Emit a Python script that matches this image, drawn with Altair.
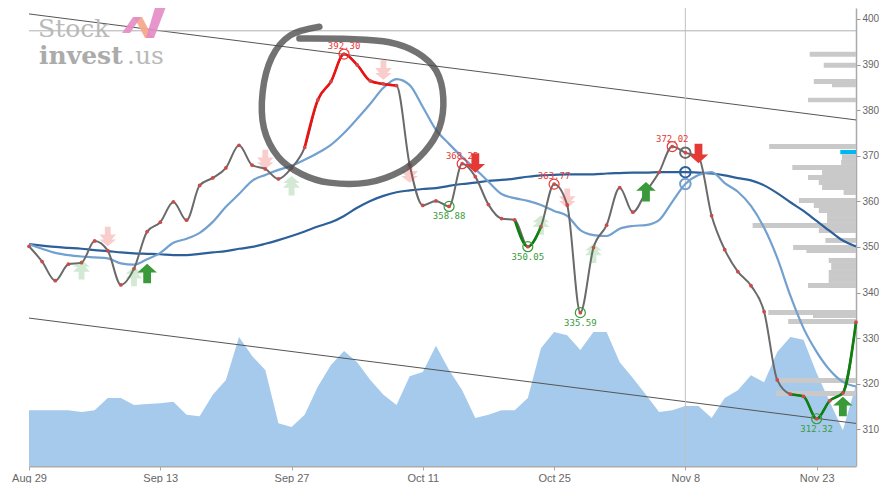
import altair as alt
import pandas as pd

# ---------------- data ----------------
date_labels = ["Aug 29", "Sep 13", "Sep 27", "Oct 11", "Oct 25", "Nov 8", "Nov 23"]
date_ticks = [0, 10, 20, 30, 40, 50, 60]
price_ticks = [310, 320, 330, 340, 350, 360, 370, 380, 390, 400]

price = [350.15, 346.78, 342.61, 346.21, 346.56, 351.32, 349.19, 341.67, 345.24, 353.36,
         355.42, 359.87, 355.86, 363.49, 365.13, 367.32, 372.30, 367.92, 367.11, 364.91,
         367.32, 371.82, 382.24, 386.25, 392.30, 389.91, 386.40, 385.75, 385.37, 367.98,
         359.10, 360.09, 358.88, 368.25, 365.42, 359.28, 356.21, 355.92, 350.05, 354.45,
         363.77, 359.21, 335.59, 349.85, 354.78, 363.00, 357.61, 362.06, 366.38, 372.02,
         370.68, 369.74, 356.86, 349.41, 344.58, 341.51, 335.81, 320.83, 317.70, 317.21,
         312.32, 316.29, 317.98, 333.49]

ma_short = [350.6, 349.6, 348.7, 348.2, 347.9, 347.7, 347.5, 346.4, 346.1, 347.3,
            348.7, 350.9, 351.8, 353.1, 355.5, 358.8, 361.6, 364.5, 365.8, 366.9,
            367.8, 369.1, 370.6, 372.4, 375.0, 378.1, 381.4, 384.9, 386.8, 385.5,
            380.7, 375.7, 372.6, 369.7, 367.1, 364.3, 361.6, 360.7, 360.1, 359.2,
            357.9, 356.8, 353.7, 352.6, 352.4, 354.0, 354.6, 354.8, 355.9, 359.9,
            363.8, 365.8, 366.4, 364.0, 362.1, 359.0, 354.2, 347.6, 339.3, 332.2,
            327.0, 323.0, 320.4, 319.4]

ma_long = [350.6, 350.3, 350.0, 349.8, 349.6, 349.3, 349.1, 348.8, 348.6, 348.5,
           348.4, 348.2, 348.2, 348.5, 348.8, 349.1, 349.6, 350.0, 350.7, 351.5,
           352.4, 353.4, 354.5, 355.4, 356.8, 358.6, 360.1, 361.2, 362.0, 362.4,
           362.7, 362.9, 363.4, 363.8, 364.1, 364.5, 364.7, 365.0, 365.4, 365.7,
           365.8, 365.9, 365.9, 365.9, 366.1, 366.2, 366.3, 366.3, 366.4, 366.4,
           366.4, 366.3, 366.1, 365.7, 365.1, 364.6, 363.5, 361.8, 359.8, 357.9,
           355.7, 353.5, 351.4, 350.1]

volume = [13.7, 13.7, 13.7, 13.7, 13.3, 13.7, 16.3, 16.3, 14.8, 15.0,
          15.2, 15.5, 12.7, 12.4, 17.0, 20.2, 29.4, 25.3, 22.3, 10.9,
          10.1, 12.7, 18.7, 23.4, 26.4, 24.0, 20.2, 17.0, 14.8, 21.0,
          21.9, 27.5, 22.3, 18.0, 12.0, 12.7, 13.7, 13.7, 16.3, 27.0,
          30.5, 29.8, 26.6, 30.5, 30.5, 24.0, 20.6, 17.0, 13.3, 13.7,
          14.6, 14.6, 12.0, 16.3, 18.0, 21.2, 19.7, 26.2, 29.4, 28.8,
          21.7, 15.5, 9.4, 19.1]

# volume-at-price profile (right side)
prof_lo = [391.73, 389.32, 385.75, 385.02, 381.73, 371.49, 370.33, 369.08, 367.98, 366.89,
           365.79, 364.69, 363.60, 362.50, 361.40, 359.65, 358.55, 357.46, 356.36, 355.26,
           354.17, 353.07, 350.88, 349.34, 348.68, 346.49, 344.96, 343.42, 342.11, 341.01,
           335.09, 334.43, 333.11, 320.18, 317.32]
prof_hi = [392.83, 390.42, 386.84, 385.75, 382.74, 372.59, 371.27, 370.33, 369.08, 367.98,
           366.89, 365.79, 364.69, 363.60, 362.50, 360.75, 359.65, 358.55, 357.46, 356.36,
           355.26, 354.17, 351.97, 350.44, 349.34, 347.59, 346.49, 344.96, 343.42, 342.11,
           336.18, 335.09, 334.21, 321.27, 318.42]
prof_vol = [5.6, 3.9, 5.1, 2.9, 5.8, 10.5, 1.9, 1.7, 1.8, 7.7,
            4.1, 5.8, 4.5, 4.1, 1.5, 6.9, 5.1, 4.5, 3.5, 3.5,
            12.5, 4.5, 3.7, 7.6, 6.0, 3.3, 3.0, 3.3, 3.3, 5.8,
            10.6, 5.2, 8.2, 9.3, 9.7]
prof_current = 6  # index of the bar at the current price level

red_segment = (21, 28)
green_segments = [(37, 39), (58, 63)]
peak_idx = [24, 33, 40, 49]
trough_idx = [32, 38, 42, 60]
marker_idx = 50

solid_up = [(9, 344.2), (47, 362.1), (62, 315.0)]
solid_down = [(34, 368.4), (51, 370.5)]
faded_up = [(4, 345.0), (8, 343.5), (20, 363.4), (39, 354.8), (43, 348.6)]
faded_down = [(6, 352.3), (18, 369.2), (27, 388.8), (29, 366.2), (41, 360.7)]

resistance = 397.4
trend_upper = [(0, 401.1), (63, 377.85)]
trend_lower = [(0, 334.4), (63, 311.3)]

scribble = [(22.12, 398.3), (19.9, 396.4), (18.5, 391.6), (17.8, 384.0), (17.9, 376.0),
            (19.0, 369.7), (20.75, 366.0), (22.88, 364.1), (25.77, 364.1), (28.36, 366.7),
            (30.11, 370.8), (31.26, 376.1), (31.56, 382.7), (31.03, 388.6), (29.58, 392.6),
            (27.44, 394.9), (24.4, 395.6), (20.6, 395.7)]

# ---------------- styling ----------------
W, H = 827, 458
XD = [0, 63]
YD = [301.96, 402.4]
VOL_DOMAIN = [1.72, 100]
C_PRICE = "#6a6a6a"
C_LONG = "#2d5f99"
C_SHORT = "#72a0cf"
C_RED = "#e53935"
C_GREEN = "#3a9a3a"

xs = alt.Scale(domain=XD, nice=False, zero=False)
ys = alt.Scale(domain=YD, nice=False, zero=False)

label_expr = "[" + ",".join("'%s'" % d for d in date_labels) + "][round(datum.value/10)]"
x_axis = alt.Axis(values=date_ticks, labelExpr=label_expr, title=None, grid=False,
                  domainColor="#aaaaaa", domainWidth=2, tickColor="#aaaaaa", tickSize=4,
                  labelColor="#666666", labelFont="Liberation Sans", labelFontSize=11,
                  labelPadding=2, labelFlush=False, labelOverlap=False)
y_axis = alt.Axis(orient="right", values=price_ticks, title=None, grid=False,
                  domainColor="#aaaaaa", domainWidth=1.5, tickColor="#999999", tickSize=4,
                  labelColor="#666666", labelFont="Liberation Sans", labelFontSize=10,
                  labelPadding=2, labelFlush=False, labelOverlap=False)


def X(f="idx"):
    return alt.X(f + ":Q", scale=xs, axis=x_axis)


def Y(f="val"):
    return alt.Y(f + ":Q", scale=ys, axis=y_axis)


n = len(price)
df = pd.DataFrame({"idx": list(range(n)), "price": price, "ma_short": ma_short,
                   "ma_long": ma_long, "volume": volume})

# volume area (own y scale)
vol_chart = alt.Chart(df).mark_area(color="#a6caec", interpolate="linear", clip=True).encode(
    x=alt.X("idx:Q", scale=xs, axis=None),
    y=alt.Y("volume:Q", scale=alt.Scale(domain=VOL_DOMAIN, nice=False, zero=False), axis=None),
)

# volume profile (own reversed x scale)
prof = pd.DataFrame({"lo": prof_lo, "hi": prof_hi, "pv": prof_vol,
                     "col": ["#00b7f1" if i == prof_current else "#c9c9c9" for i in range(len(prof_lo))]})
profile_chart = alt.Chart(prof).mark_bar().encode(
    x=alt.X("pv:Q", scale=alt.Scale(domain=[0, 100], reverse=True, nice=False, zero=True), axis=None),
    x2=alt.datum(0),
    y=alt.Y("lo:Q", scale=ys, axis=None),
    y2="hi:Q",
    color=alt.Color("col:N", scale=None),
)

# trend lines
tl = pd.DataFrame({"idx": [p[0] for p in trend_upper + trend_lower],
                   "val": [p[1] for p in trend_upper + trend_lower],
                   "g": ["u", "u", "l", "l"]})
trend_chart = alt.Chart(tl).mark_line(color="#555555", strokeWidth=1).encode(
    x=X(), y=Y(), detail="g:N")

hline = alt.Chart(pd.DataFrame({"val": [resistance]})).mark_rule(
    color="#b0b0b0", strokeWidth=1).encode(y=Y())
vline = alt.Chart(pd.DataFrame({"idx": [marker_idx]})).mark_rule(
    color="#c0c0c0", strokeWidth=1).encode(x=X())

base = alt.Chart(df)
long_line = base.mark_line(color=C_LONG, strokeWidth=2.2, interpolate="monotone").encode(
    x=X(), y=Y("ma_long"))
short_line = base.mark_line(color=C_SHORT, strokeWidth=2.2, interpolate="monotone").encode(
    x=X(), y=Y("ma_short"))
price_line = base.mark_line(color=C_PRICE, strokeWidth=2, interpolate="monotone").encode(
    x=X(), y=Y("price"))

seg_rows = []
a, b = red_segment
for i in range(a, b + 1):
    seg_rows.append({"idx": i, "val": price[i], "seg": "r"})
red_df = pd.DataFrame(seg_rows)
red_line = alt.Chart(red_df).mark_line(color="#ee1111", strokeWidth=2.6, interpolate="monotone").encode(
    x=X(), y=Y())

g_rows = []
for k, (a, b) in enumerate(green_segments):
    for i in range(a, b + 1):
        g_rows.append({"idx": i, "val": price[i], "seg": "g%d" % k})
green_line = alt.Chart(pd.DataFrame(g_rows)).mark_line(
    color="#0f7f0f", strokeWidth=2.6, interpolate="monotone").encode(
    x=X(), y=Y(), detail="seg:N")

dots = base.mark_point(filled=True, color="#cc4a4a", size=14, opacity=1).encode(
    x=X(), y=Y("price"))

# scribble annotation
scr = pd.DataFrame({"idx": [p[0] for p in scribble], "val": [p[1] for p in scribble],
                    "o": list(range(len(scribble)))})
scribble_chart = alt.Chart(scr).mark_line(
    color="#4a4a4a", strokeWidth=6.5, opacity=0.78, interpolate="cardinal",
    strokeCap="round", strokeJoin="round").encode(x=X(), y=Y(), order="o:Q")

# Nov 8 markers
mk = pd.DataFrame({"idx": [marker_idx] * 3,
                   "val": [price[marker_idx], ma_long[marker_idx], ma_short[marker_idx]],
                   "c": [C_PRICE, C_LONG, C_SHORT]})
marker_chart = alt.Chart(mk).mark_point(filled=False, size=110, strokeWidth=2, opacity=1).encode(
    x=X(), y=Y(), color=alt.Color("c:N", scale=None))

# peaks & troughs
pk = pd.DataFrame({"idx": peak_idx, "val": [price[i] for i in peak_idx],
                   "lab": ["%.2f" % price[i] for i in peak_idx]})
tr = pd.DataFrame({"idx": trough_idx, "val": [price[i] for i in trough_idx],
                   "lab": ["%.2f" % price[i] for i in trough_idx]})
pk_circ = alt.Chart(pk).mark_point(filled=False, size=100, strokeWidth=1.2, color=C_RED, opacity=1).encode(
    x=X(), y=Y())
tr_circ = alt.Chart(tr).mark_point(filled=False, size=100, strokeWidth=1.2, color=C_GREEN, opacity=1).encode(
    x=X(), y=Y())
pk_text = alt.Chart(pk).mark_text(color=C_RED, font="DejaVu Sans Mono", fontSize=9,
                                  baseline="bottom", dy=-3).encode(x=X(), y=Y(), text="lab:N")
tr_text = alt.Chart(tr).mark_text(color=C_GREEN, font="DejaVu Sans Mono", fontSize=9,
                                  baseline="top", dy=6).encode(x=X(), y=Y(), text="lab:N")

# arrows
UP = "M0,-1 L1,-0.1 L0.4,-0.1 L0.4,1 L-0.4,1 L-0.4,-0.1 L-1,-0.1 Z"
DOWN = "M0,1 L1,0.1 L0.4,0.1 L0.4,-1 L-0.4,-1 L-0.4,0.1 L-1,0.1 Z"
UP2 = ("M0,-1 L0.85,-0.3 L0.4,-0.3 L0.85,0.2 L0.3,0.2 L0.3,1 L-0.3,1 L-0.3,0.2 "
       "L-0.85,0.2 L-0.4,-0.3 L-0.85,-0.3 Z")
DOWN2 = ("M0,1 L0.85,0.3 L0.4,0.3 L0.85,-0.2 L0.3,-0.2 L0.3,-1 L-0.3,-1 L-0.3,-0.2 "
         "L-0.85,-0.2 L-0.4,0.3 L-0.85,0.3 Z")


def arrows(pts, shape, color, opacity):
    d = pd.DataFrame({"idx": [p[0] for p in pts], "val": [p[1] for p in pts]})
    return alt.Chart(d).mark_point(shape=shape, filled=True, size=380, color=color,
                                   opacity=opacity, strokeWidth=0).encode(x=X(), y=Y())


arr_fu = arrows(faded_up, UP2, C_GREEN, 0.22)
arr_fd = arrows(faded_down, DOWN2, C_RED, 0.25)
arr_su = arrows(solid_up, UP, C_GREEN, 1)
arr_sd = arrows(solid_down, DOWN, C_RED, 1)

# logo
one = pd.DataFrame({"a": [0]})
logo_stock = alt.Chart(one).mark_text(text="Stock", font="DejaVu Serif", fontSize=25,
                                      color="#b9b9b9", align="left", baseline="alphabetic").encode(
    x=alt.value(9), y=alt.value(29))
logo_invest = alt.Chart(one).mark_text(text="invest", font="DejaVu Serif", fontSize=25,
                                       fontWeight="bold", color="#ababab", align="left",
                                       baseline="alphabetic").encode(x=alt.value(10), y=alt.value(56))
logo_us = alt.Chart(one).mark_text(text=".us", font="DejaVu Serif", fontSize=25,
                                   color="#b9b9b9", align="left", baseline="alphabetic").encode(
    x=alt.value(98), y=alt.value(56))
L1 = "M-1.15,0.6 L-0.75,0.6 L-0.2,-0.2 L-0.6,-0.2 Z"
L2 = "M-0.55,-0.2 L-0.15,-0.2 L0.4,0.85 L0,0.85 Z"
L3 = "M0.55,-0.85 L1.1,-0.85 L0.45,0.85 L0.05,0.85 Z"
logo_parts = [
    alt.Chart(one).mark_point(shape=L2, filled=True, size=1600, color="#f6a98c", opacity=0.95,
                              strokeWidth=0).encode(x=alt.value(116), y=alt.value(13)),
    alt.Chart(one).mark_point(shape=L1, filled=True, size=1600, color="#e58cc3", opacity=0.9,
                              strokeWidth=0).encode(x=alt.value(116), y=alt.value(13)),
    alt.Chart(one).mark_point(shape=L3, filled=True, size=1600, color="#e48bc6", opacity=0.9,
                              strokeWidth=0).encode(x=alt.value(116), y=alt.value(13)),
]

price_group = alt.layer(
    trend_chart, hline, vline, long_line, short_line, price_line, red_line, green_line,
    dots, marker_chart, pk_circ, tr_circ, arr_fu, arr_fd, arr_su, arr_sd,
    scribble_chart, pk_text, tr_text, logo_stock, logo_invest, logo_us, *logo_parts
)

chart = alt.layer(vol_chart, profile_chart, price_group).resolve_scale(
    x="independent", y="independent"
).properties(
    width=W, height=H,
    autosize=alt.AutoSizeParams(type="none"),
    padding={"left": 21, "top": 0, "right": 23, "bottom": 17},
    background="white",
).configure_view(stroke=None)

chart.save("out.html", embed_options={"renderer": "svg", "actions": False})
